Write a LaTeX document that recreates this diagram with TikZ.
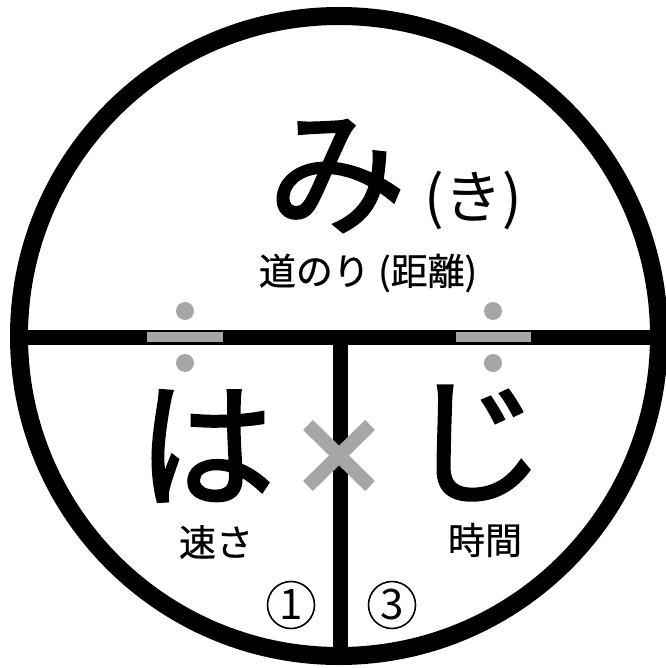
\documentclass[tikz,border=0pt]{standalone}
\usepackage{fontspec}
\newfontfamily\jp{Noto Sans CJK JP}
\newfontfamily\jpb[FakeBold=2]{Noto Sans CJK JP}
\newfontfamily\jpm[FakeBold=0.6]{Noto Sans CJK JP}
\definecolor{mygray}{HTML}{A6A6A6}
\tikzset{
  big/.style={inner sep=0pt, font=\jpb\fontsize{138}{138}\selectfont},
  small/.style={inner sep=0pt, font=\jpm\fontsize{37}{37}\selectfont},
  num/.style={circle, draw, line width=1.6pt, minimum size=47pt, inner sep=0pt, font=\jp\fontsize{42}{42}\selectfont},
  bar/.style={line width=15pt},
  grayrect/.style={fill=mygray, draw=none},
  dot/.style={fill=mygray, draw=none},
}
\begin{document}
\begin{tikzpicture}[x=1pt,y=-1pt]
\useasboundingbox (0,0) rectangle (665,668);
% outer circle
\node[circle, draw, line width=18pt, minimum size=640pt, inner sep=0pt] (ring) at (339,336) {};
% dividers
\coordinate (hl) at (19,337.5);
\coordinate (hr) at (659,337.5);
\coordinate (vt) at (340.5,337.5);
\coordinate (vb) at (340.5,658);
\draw[bar] (hl) -- (hr);
\draw[bar] (vt) -- (vb);
% gray marks
\fill[grayrect] (147,332) rectangle (223,342);
\fill[grayrect] (456,332) rectangle (531,342);
\fill[dot] (185,311) circle (9);
\fill[dot] (185,363) circle (9);
\fill[dot] (493,311) circle (9);
\fill[dot] (493,363) circle (9);
% times sign
\coordinate (x1) at (308,425);
\coordinate (x2) at (370,486);
\coordinate (x3) at (370,425);
\coordinate (x4) at (308,486);
\draw[mygray, line width=14pt] (x1) -- (x2);
\draw[mygray, line width=14pt] (x3) -- (x4);
% texts
\node[big] (mi) at (337,176) {み};
\node[inner sep=0pt, font=\jp\fontsize{58}{58}\selectfont] (ki) at (473,200) {(き)};
\node[small] (michi) at (368,273) {道のり (距離)};
\node[big] (ha) at (206,446) {は};
\node[big] (ji) at (476,443) {じ};
\node[small] (soku) at (216,542) {速さ};
\node[small] (jikan) at (485,540) {時間};
\node[num] (n1) at (291,605) {1};
\node[num] (n3) at (392,605) {3};
\end{tikzpicture}
\end{document}
